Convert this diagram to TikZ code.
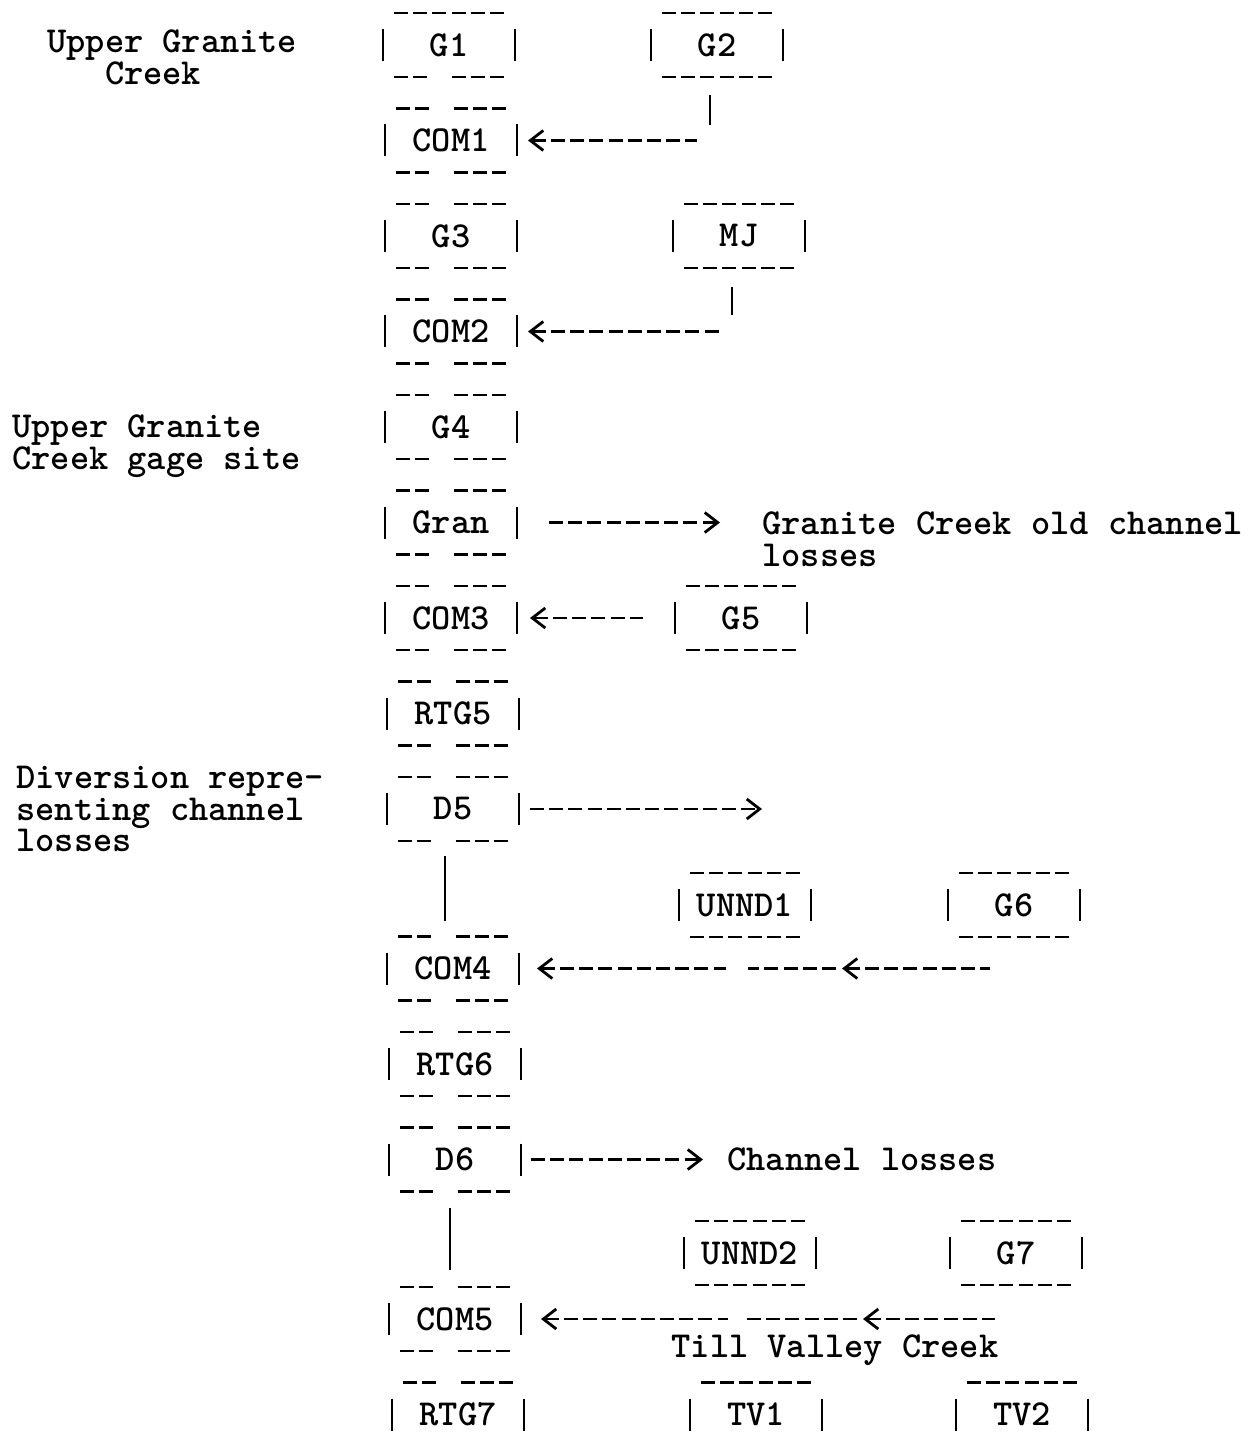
\documentclass[tikz,border=0pt]{standalone}
\usepackage{fontspec}
\setmonofont{lmmonolt10-bold.otf}
\usetikzlibrary{arrows.meta,positioning}
\newcommand{\tw}{\fontsize{18.3pt}{15.9pt}\selectfont\ttfamily}
\tikzset{
rulefull/.style={line width=1.3pt,dash pattern=on 7pt off 2.6pt},
rulesplit/.style={line width=1.3pt,dash pattern=on 7pt off 2.6pt on 7pt off 12.2pt on 7pt off 2.6pt on 7pt off 2.6pt on 7pt off 20pt},
bar/.style={line width=1.1pt},
gbox/.style 2 args={minimum width=66pt,minimum height=32pt,inner sep=0pt,outer sep=0pt,font=\tw,
  append after command={
    ([yshift=8pt]\tikzlastnode.west) edge[bar] ([yshift=-8pt]\tikzlastnode.west)
    ([yshift=8pt]\tikzlastnode.east) edge[bar] ([yshift=-8pt]\tikzlastnode.east)
    ([xshift=5.5pt]\tikzlastnode.north west) edge[#1] ([xshift=-5pt]\tikzlastnode.north east)
    ([xshift=5.5pt]\tikzlastnode.south west) edge[#2] ([xshift=-5pt]\tikzlastnode.south east)}},
mainbox/.style={gbox={rulesplit}{rulesplit}},
sidebox/.style={gbox={rulefull}{rulefull}},
note/.style={font=\tw,align=left,inner sep=0pt},
flowin/.style={{Straight Barb[length=6.5pt,width=10pt,line width=1.4pt]}-,line width=1.3pt,dash pattern=on 7pt off 2.6pt},
flowout/.style={-{Straight Barb[length=6.5pt,width=10pt,line width=1.4pt]},line width=1.3pt,dash pattern=on 7pt off 2.6pt}
}
\begin{document}
\begin{tikzpicture}[x=0.5pt,y=-0.5pt,node distance=15.75pt and 68pt]
\useasboundingbox (0,0) rectangle (1253,1444);

% main stem
\node[gbox={rulefull}{rulesplit}] (g1) at (449,45) {G1};
\node[mainbox,below=of g1,xshift=1pt] (com1) {COM1};
\node[mainbox,below=of com1] (g3) {G3};
\node[mainbox,below=of g3] (com2) {COM2};
\node[mainbox,below=of com2] (g4) {G4};
\node[mainbox,below=of g4] (gran) {Gran};
\node[mainbox,below=of gran] (com3) {COM3};
\node[mainbox,below=of com3,xshift=1pt] (rtg5) {RTG5};
\node[mainbox,below=of rtg5] (d5) {D5};
\node[mainbox,below=47.75pt of d5] (com4) {COM4};
\node[mainbox,below=of com4,xshift=1pt] (rtg6) {RTG6};
\node[mainbox,below=of rtg6] (d6) {D6};
\node[mainbox,below=47.75pt of d6] (com5) {COM5};
\node[mainbox,below=of com5,xshift=1.5pt] (rtg7) {RTG7};

% tributaries
\node[sidebox,right=68pt of g1] (g2) {G2};
\node[sidebox,right=78pt of g3] (mj) {MJ};
\node[sidebox,right=79pt of com3] (g5) {G5};
\node[sidebox] (unnd1) at (745,905) {UNND1};
\node[sidebox,right=68.5pt of unnd1] (g6) {G6};
\node[sidebox] (unnd2) at (750,1253) {UNND2};
\node[sidebox,right=67pt of unnd2] (g7) {G7};
\node[sidebox,right=83pt of rtg7] (tv1) {TV1};
\node[sidebox,right=67pt of tv1] (tv2) {TV2};

% labels
\node[note,anchor=west] (ugc) at (47,61) {Upper Granite\\\phantom{Upp}Creek};
\node[note,anchor=west] (ugs) at (12,446) {Upper Granite\\Creek gage site};
\node[note,anchor=west] (div) at (16,809) {Diversion repre-\\senting channel\\losses};
\node[note,anchor=west] (gloss) at (762,539) {Granite Creek old channel\\losses};
\node[note,right=103pt of d6] (closs) {Channel losses};
\node[note] (tvc) at (835,1350) {Till Valley Creek};
\coordinate[right=121.5pt of d5.east] (d5loss);

% connectors
\draw[bar] ([xshift=-3.5pt,yshift=-9pt]g2.south) -- ([xshift=-3.5pt,yshift=-24pt]g2.south);
\draw[flowin] ([xshift=5.5pt]com1.east) -- ([xshift=-10pt]g2.south |- com1.east);
\draw[bar] ([xshift=-3.5pt,yshift=-9.5pt]mj.south) -- ([xshift=-3.5pt,yshift=-23.5pt]mj.south);
\draw[flowin] ([xshift=5.5pt]com2.east) -- ([xshift=-10pt]mj.south |- com2.east);
\draw[flowout] ([xshift=16pt]gran.east) -- ([xshift=-21pt]gloss.west |- gran.east);
\draw[flowin] ([xshift=6.5pt]com3.east) -- ([xshift=-16pt]g5.west);
\draw[flowout] ([xshift=5.5pt]d5.east) -- (d5loss);
\draw[bar] ([xshift=-4pt,yshift=-7.5pt]d5.south) -- ([xshift=-4pt,yshift=8pt]com4.north);
\draw[flowin] ([xshift=-86pt]g6.south |- com4.east) -- ([xshift=-12pt]g6.south |- com4.east);
\draw[rulefull] ([xshift=-89pt]g6.south |- com4.east) -- ([xshift=-133pt]g6.south |- com4.east);
\draw[flowin] ([xshift=9pt]com4.east) -- ([xshift=-144pt]g6.south |- com4.east);
\draw[flowout] ([xshift=5pt]d6.east) -- ([xshift=-12pt]closs.west);
\draw[bar] ([xshift=-2.5pt,yshift=-8pt]d6.south) -- ([xshift=-2.5pt,yshift=8.5pt]com5.north);
\draw[flowin] ([xshift=-76.5pt]g7.south |- com5.east) -- ([xshift=-10.5pt]g7.south |- com5.east);
\draw[rulefull] ([xshift=-79.5pt]g7.south |- com5.east) -- ([xshift=-136.5pt]g7.south |- com5.east);
\draw[flowin] ([xshift=10pt]com5.east) -- ([xshift=-144pt]g7.south |- com5.east);
\end{tikzpicture}
\end{document}
